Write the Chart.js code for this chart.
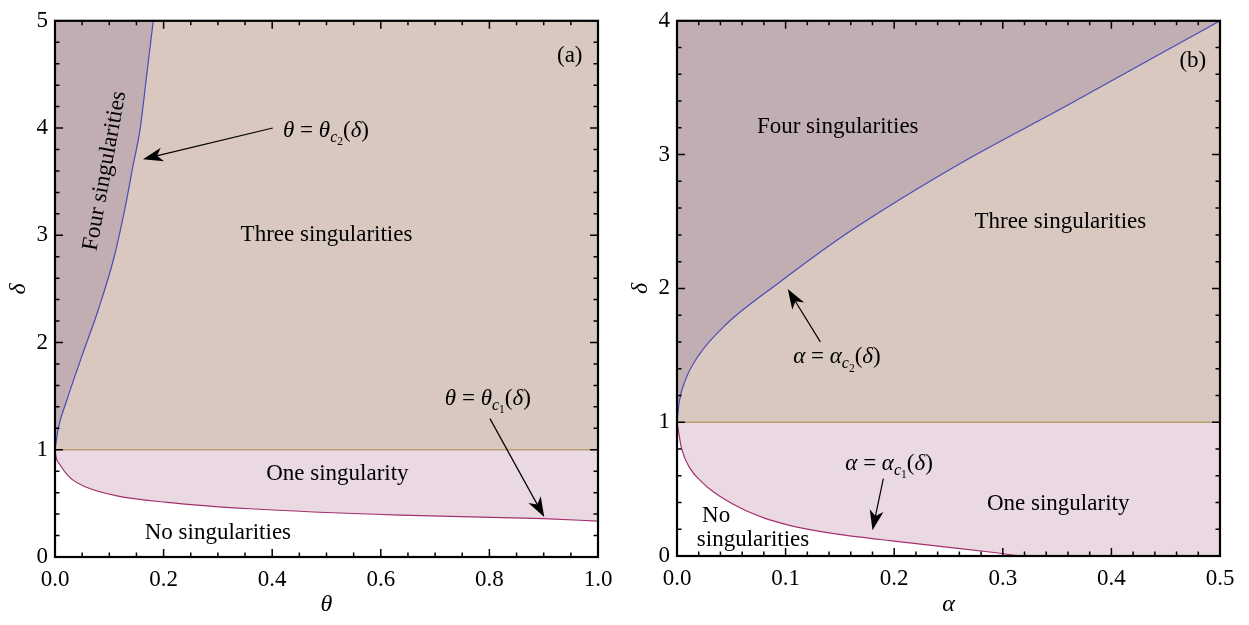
<!DOCTYPE html>
<html>
<head>
<meta charset="utf-8">
<script src="https://cdn.jsdelivr.net/npm/chart.js@4.4.1/dist/chart.umd.min.js"></script>
<style>
  body { margin: 0; background: #fff; }
  canvas { position: absolute; top: 0; }
  #left { left: 0; }
  #right { left: 624px; }
</style>
</head>
<body>
<canvas id="left" width="624" height="625"></canvas>
<canvas id="right" width="625" height="625"></canvas>
<script>
// panel (a): theta vs delta
const thetaC2 = [0, 0.006, 0.021, 0.050, 0.080, 0.109, 0.128, 0.143, 0.157, 0.169, 0.181];
const deltaC2a = [1, 1.2, 1.45, 1.88, 2.31, 2.80, 3.23, 3.63, 4.0, 4.5, 5.0];
const thetaC1 = [0, 0.002, 0.0092, 0.0276, 0.058, 0.114, 0.206, 0.359, 0.635, 0.90, 1.0];
const deltaC1a = [1, 0.93, 0.86, 0.74, 0.65, 0.57, 0.51, 0.45, 0.39, 0.357, 0.335];

// panel (b): alpha vs delta
const alphaC2 = [0, 0.002, 0.008, 0.02, 0.045, 0.0935, 0.160, 0.260, 0.360, 0.443, 0.5];
const deltaC2b = [1, 1.15, 1.32, 1.50, 1.73, 2.04, 2.43, 2.93, 3.37, 3.745, 4.0];
const alphaC1 = [0, 0.001, 0.0043, 0.012, 0.022, 0.0334, 0.058, 0.08, 0.101, 0.134, 0.165, 0.196, 0.25, 0.29, 0.322, 0.5];
const deltaC1b = [1, 0.95, 0.80, 0.655, 0.56, 0.48, 0.36, 0.285, 0.235, 0.18, 0.145, 0.115, 0.065, 0.028, 0, 0];

const thetaTicks = [0, 0.2, 0.4, 0.6, 0.8, 1.0];
const alphaTicks = [0, 0.1, 0.2, 0.3, 0.4, 0.5];
const deltaTicksA = [0, 1, 2, 3, 4, 5];
const deltaTicksB = [0, 1, 2, 3, 4];

const FOUR = "#c1aeb3";
const THREE = "#d8c8c0";
const ONE = "#ead9e3";
const SERIF = "'Liberation Serif', 'DejaVu Serif', serif";
const FS = 23;

function pts(xs, ys) {
  return xs.map((x, i) => ({ x: x, y: ys[i] }));
}

function isMajor(v, list) {
  return list.some(t => Math.abs(t - v) < 1e-6);
}

// math label: parts drawn one after another
function drawMath(ctx, x, y, parts, size) {
  let cx = x;
  ctx.textBaseline = "alphabetic";
  ctx.textAlign = "left";
  parts.forEach(p => {
    const s = p.sub === 2 ? size * 0.5 : p.sub === 1 ? size * 0.7 : size;
    const dy = p.sub === 2 ? size * 0.36 : p.sub === 1 ? size * 0.22 : 0;
    ctx.font = (p.it ? "italic " : "") + s + "px " + SERIF;
    ctx.fillText(p.t, cx, y + dy);
    cx += ctx.measureText(p.t).width;
  });
}

function arrow(ctx, x1, y1, x2, y2) {
  const a = Math.atan2(y2 - y1, x2 - x1);
  const L = 20, W = 7;
  ctx.beginPath();
  ctx.moveTo(x1, y1);
  ctx.lineTo(x2 - Math.cos(a) * L * 0.7, y2 - Math.sin(a) * L * 0.7);
  ctx.lineWidth = 1.2;
  ctx.strokeStyle = "#000";
  ctx.stroke();
  const bx = x2 - Math.cos(a) * L, by = y2 - Math.sin(a) * L;
  const nx = x2 - Math.cos(a) * L * 0.72, ny = y2 - Math.sin(a) * L * 0.72;
  ctx.beginPath();
  ctx.moveTo(x2, y2);
  ctx.lineTo(bx + Math.sin(a) * W, by - Math.cos(a) * W);
  ctx.lineTo(nx, ny);
  ctx.lineTo(bx - Math.sin(a) * W, by + Math.cos(a) * W);
  ctx.closePath();
  ctx.fillStyle = "#000";
  ctx.fill();
}

const framePlugin = {
  id: "frame",
  afterDraw(chart, args, opts) {
    const ctx = chart.ctx;
    const area = chart.chartArea;
    const xs = chart.scales.x, ys = chart.scales.y;
    ctx.save();
    ctx.strokeStyle = "#000";
    ctx.lineWidth = 1.5;
    xs.ticks.forEach(t => {
      const px = xs.getPixelForValue(t.value);
      const len = isMajor(t.value, opts.xMajor) ? 8 : 4.5;
      ctx.beginPath();
      ctx.moveTo(px, area.bottom); ctx.lineTo(px, area.bottom - len);
      ctx.moveTo(px, area.top); ctx.lineTo(px, area.top + len);
      ctx.stroke();
    });
    ys.ticks.forEach(t => {
      const py = ys.getPixelForValue(t.value);
      const len = isMajor(t.value, opts.yMajor) ? 8 : 4.5;
      ctx.beginPath();
      ctx.moveTo(area.left, py); ctx.lineTo(area.left + len, py);
      ctx.moveTo(area.right, py); ctx.lineTo(area.right - len, py);
      ctx.stroke();
    });
    ctx.lineWidth = 2.2;
    ctx.strokeRect(area.left, area.top, area.right - area.left, area.bottom - area.top);

    // notes
    ctx.fillStyle = "#000";
    (opts.texts || []).forEach(n => {
      const px = xs.getPixelForValue(n.x), py = ys.getPixelForValue(n.y);
      ctx.save();
      ctx.translate(px, py);
      if (n.rot) ctx.rotate(n.rot);
      ctx.font = FS + "px " + SERIF;
      ctx.textAlign = "center";
      ctx.textBaseline = "middle";
      ctx.fillText(n.t, 0, 0);
      ctx.restore();
    });
    (opts.maths || []).forEach(m => {
      drawMath(ctx, xs.getPixelForValue(m.x), ys.getPixelForValue(m.y), m.parts, FS);
    });
    (opts.arrows || []).forEach(a => {
      arrow(ctx, xs.getPixelForValue(a[0]), ys.getPixelForValue(a[1]),
        xs.getPixelForValue(a[2]), ys.getPixelForValue(a[3]));
    });
    ctx.restore();
  }
};

function mathParts(sym, n) {
  return [
    { t: sym, it: true }, { t: " = " }, { t: sym, it: true },
    { t: "c", it: true, sub: 1 }, { t: n, sub: 2 }, { t: "(" }, { t: "δ", it: true }, { t: ")" }
  ];
}

function makeChart(id, cfg) {
  const datasets = [
    { data: pts([0, cfg.xmax], [1, 1]), fill: "end", backgroundColor: THREE, borderWidth: 0, pointRadius: 0, showLine: true, order: 5 },
    { data: pts(cfg.c2x, cfg.c2y), fill: "end", backgroundColor: FOUR, borderColor: "#4a4ab8", borderWidth: 1.2, pointRadius: 0, showLine: true, cubicInterpolationMode: "monotone", order: 4 },
    { data: pts(cfg.c1x, cfg.c1y), fill: 0, backgroundColor: ONE, borderColor: "#a3306e", borderWidth: 1.2, pointRadius: 0, showLine: true, cubicInterpolationMode: "monotone", order: 3 },
    { data: pts([0, cfg.xmax], [1, 1]), fill: false, borderColor: "#b8a070", borderWidth: 1.6, pointRadius: 0, showLine: true, order: 0 }
  ];
  return new Chart(document.getElementById(id), {
    type: "scatter",
    data: { datasets: datasets },
    plugins: [framePlugin],
    options: {
      responsive: false,
      animation: false,
      layout: { padding: { left: 0, right: cfg.padRight, top: 15, bottom: 0 } },
      plugins: {
        legend: { display: false },
        tooltip: { enabled: false },
        frame: { xMajor: cfg.xTicks, yMajor: cfg.yTicks, texts: cfg.texts, maths: cfg.maths, arrows: cfg.arrows }
      },
      scales: {
        x: {
          type: "linear", min: 0, max: cfg.xmax,
          afterFit: s => { s.height = cfg.xHeight; },
          grid: { display: false, drawTicks: false },
          border: { display: false },
          ticks: {
            stepSize: cfg.xStep, autoSkip: false, maxRotation: 0, padding: 9,
            color: "#000", font: { family: SERIF, size: FS },
            callback: v => isMajor(v, cfg.xTicks) ? v.toFixed(1) : ""
          },
          title: { display: true, text: cfg.xTitle, color: "#000", font: { family: SERIF, size: 24, style: "italic" }, padding: { top: 0, bottom: 6 } }
        },
        y: {
          type: "linear", min: 0, max: cfg.ymax,
          afterFit: s => { s.width = cfg.yWidth; },
          grid: { display: false, drawTicks: false },
          border: { display: false },
          ticks: {
            stepSize: 0.2, autoSkip: false, padding: 7,
            color: "#000", font: { family: SERIF, size: FS },
            callback: v => isMajor(v, cfg.yTicks) ? String(Math.round(v)) : ""
          },
          title: { display: true, text: "δ", color: "#000", font: { family: SERIF, size: 24, style: "italic" }, padding: { top: cfg.yTitlePad, bottom: 0 } }
        }
      }
    }
  });
}

makeChart("left", {
  xmax: 1, ymax: 5, xStep: 0.05, xTicks: thetaTicks, yTicks: deltaTicksA,
  c2x: thetaC2, c2y: deltaC2a, c1x: thetaC1, c1y: deltaC1a,
  padRight: 26, xHeight: 68, yWidth: 55, yTitlePad: 4, xTitle: "θ",
  texts: [
    { t: "(a)", x: 0.948, y: 4.67 },
    { t: "Four singularities", x: 0.092, y: 3.6, rot: -1.39 },
    { t: "Three singularities", x: 0.50, y: 3.0 },
    { t: "One singularity", x: 0.52, y: 0.775 },
    { t: "No singularities", x: 0.30, y: 0.22 }
  ],
  maths: [
    { x: 0.42, y: 3.92, parts: mathParts("θ", "2") },
    { x: 0.718, y: 1.42, parts: mathParts("θ", "1") }
  ],
  arrows: [[0.401, 4.0, 0.162, 3.71], [0.801, 1.29, 0.901, 0.372]]
});

makeChart("right", {
  xmax: 0.5, ymax: 4, xStep: 0.02, xTicks: alphaTicks, yTicks: deltaTicksB,
  c2x: alphaC2, c2y: deltaC2b, c1x: alphaC1, c1y: deltaC1b,
  padRight: 29, xHeight: 69, yWidth: 53, yTitlePad: 2, xTitle: "α",
  texts: [
    { t: "(b)", x: 0.475, y: 3.70 },
    { t: "Four singularities", x: 0.148, y: 3.21 },
    { t: "Three singularities", x: 0.353, y: 2.50 },
    { t: "One singularity", x: 0.351, y: 0.39 },
    { t: "No", x: 0.036, y: 0.30 },
    { t: "singularities", x: 0.070, y: 0.12 }
  ],
  maths: [
    { x: 0.107, y: 1.44, parts: mathParts("α", "2") },
    { x: 0.155, y: 0.645, parts: mathParts("α", "1") }
  ],
  arrows: [[0.132, 1.60, 0.102, 1.995], [0.190, 0.578, 0.180, 0.193]]
});
</script>
</body>
</html>
